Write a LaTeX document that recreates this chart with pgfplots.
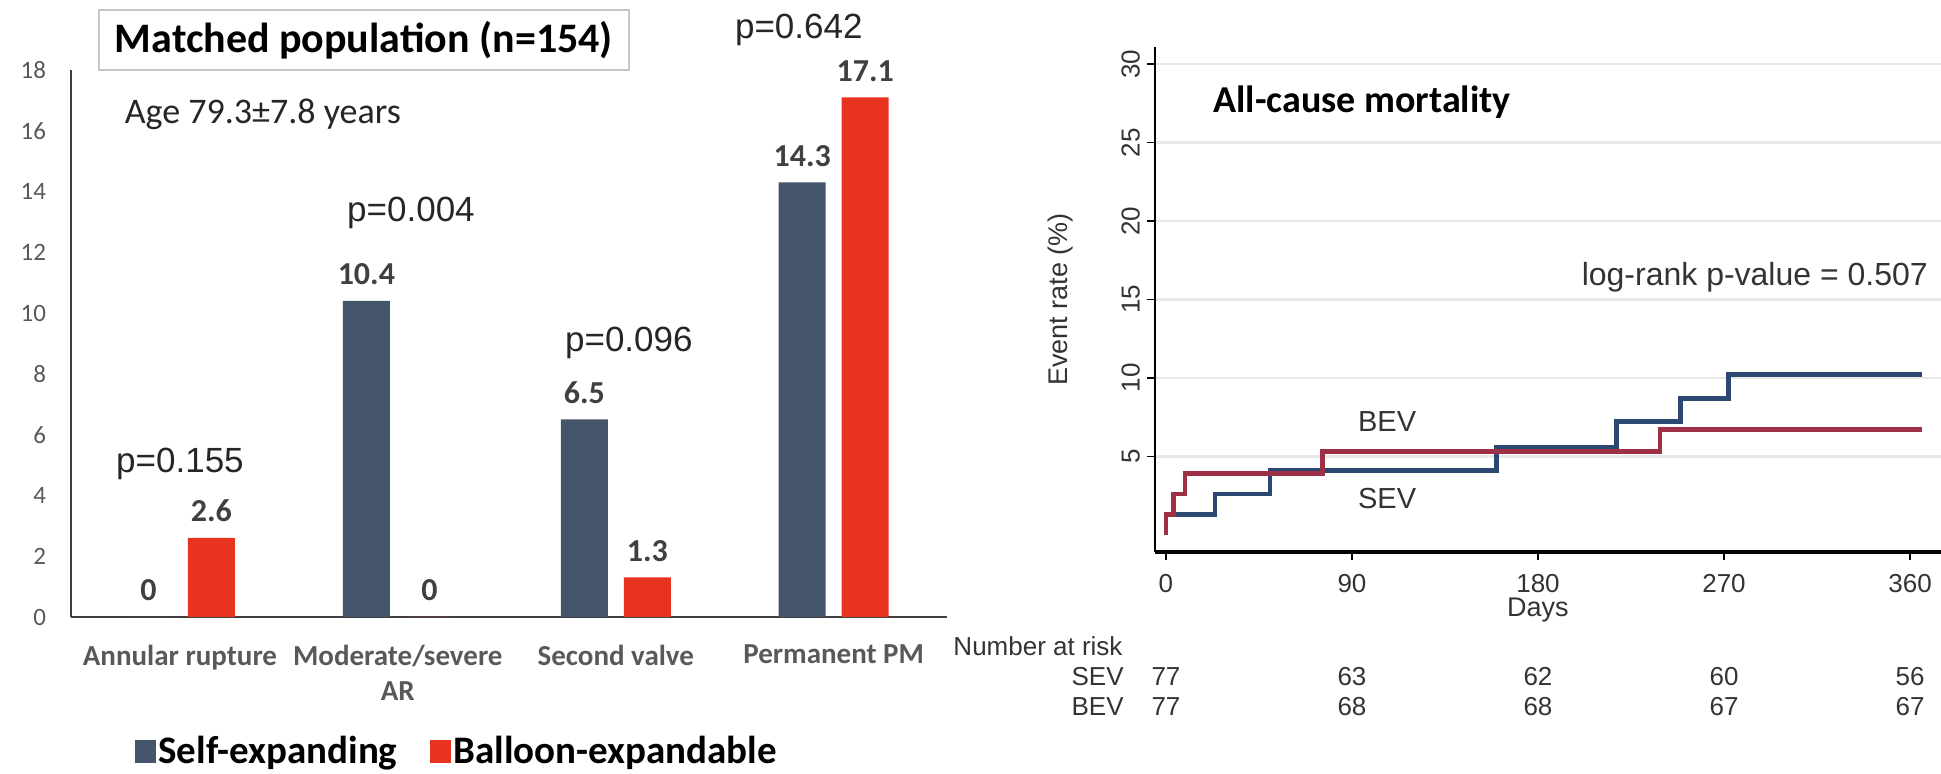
\documentclass[border=0pt]{standalone}
\usepackage{fontspec}
\usepackage{pgfplots}
\pgfplotsset{compat=1.18}
\setmainfont{Carlito}
\newfontfamily\stata{Liberation Sans}

\definecolor{selfexp}{HTML}{44546A}
\definecolor{balloon}{HTML}{E8331F}
\definecolor{ticktext}{HTML}{595959}
\definecolor{valtext}{HTML}{404040}
\definecolor{sevcol}{HTML}{2A4870}
\definecolor{bevcol}{HTML}{9E3046}
\definecolor{gridcol}{HTML}{E8E8E8}

\begin{document}
\begin{tikzpicture}
\useasboundingbox (0,0) rectangle (970.5pt,387pt);

% ---------------- complications, bar chart ----------------
\begin{axis}[
  at={(35.5pt,78.5pt)}, anchor=south west,
  scale only axis, width=438pt, height=273.5pt,
  xmin=-0.5, xmax=3.52, ymin=0, ymax=18,
  ybar=8pt, bar width=23.5pt,
  axis x line*=bottom, axis y line*=left,
  axis line style={color=valtext, line width=0.9pt},
  ytick={0,2,...,18},
  xtick={0,1,2,3},
  xticklabels={Annular rupture,{Moderate/severe\\AR},Second valve,Permanent PM},
  major tick length=0pt,
  /pgf/number format/assume math mode=true,
  yticklabel style={font=\fontsize{12.5}{14}\selectfont, text=ticktext, xshift=-9pt},
  xticklabel style={font=\bfseries\fontsize{14.5}{17.5}\selectfont, text=ticktext, align=center, anchor=north, yshift=-10.5pt},
  nodes near coords,
  every node near coord/.append style={font=\bfseries\fontsize{16}{19}\selectfont, text=valtext, yshift=4.5pt},
  legend columns=2,
  legend style={at={(axis description cs:0.073,-0.245)}, anchor=west, draw=none, fill=none,
    inner sep=0pt, font=\bfseries\fontsize{19.5}{23}\selectfont,
    nodes={inner sep=1pt},
    /tikz/every even column/.append style={column sep=15.5pt}},
  clip=false,
]
\addplot[fill=selfexp, draw=none,
  legend image code/.code={\path[fill=selfexp] (0pt,-5.75pt) rectangle (10.5pt,5.75pt);}]
  coordinates {(0,0) (1,10.4) (2,6.5) (3,14.3)};
\addplot[fill=balloon, draw=none,
  legend image code/.code={\path[fill=balloon] (0pt,-5.75pt) rectangle (10.5pt,5.75pt);}]
  coordinates {(0,2.6) (1,0) (2,1.3) (3,17.1)};
\legend{Self-expanding, Balloon-expandable}

\node[draw=black!22, line width=0.8pt, minimum width=265pt, minimum height=30pt,
  font=\bfseries\fontsize{21}{25}\selectfont] at (axis cs:0.844,18.99) {Matched population (n=154)};
\node[anchor=base west, inner sep=0pt, font=\fontsize{18}{21}\selectfont, text=black!85] at (axis cs:-0.255,16.25) {Age 79.3±7.8 years};

\node[anchor=base, font=\stata\fontsize{17.5}{20}\selectfont, text=black!85] at (axis cs:0.0,4.77) {p=0.155};
\node[anchor=base, font=\stata\fontsize{17.5}{20}\selectfont, text=black!85] at (axis cs:1.06,13.03) {p=0.004};
\node[anchor=base, font=\stata\fontsize{17.5}{20}\selectfont, text=black!85] at (axis cs:2.06,8.75) {p=0.096};
\node[anchor=base, font=\stata\fontsize{17.5}{20}\selectfont, text=black!85] at (axis cs:2.84,19.05) {p=0.642};
\end{axis}

% ---------------- all-cause mortality, Kaplan-Meier ----------------
\begin{axis}[
  at={(577.5pt,111pt)}, anchor=south west,
  scale only axis, width=393pt, height=252.5pt,
  xmin=-5.3, xmax=375, ymin=-1.1, ymax=31.1,
  axis x line*=bottom, axis y line*=left,
  x axis line style={line width=2pt, black},
  y axis line style={line width=0.8pt, black},
  xtick={0,90,180,270,360}, ytick={5,10,...,30},
  ymajorgrids, grid style={gridcol, line width=1.2pt},
  tick style={black, line width=0.8pt}, major tick length=4pt, tick align=outside,
  /pgf/number format/assume math mode=true,
  ticklabel style={font=\stata\fontsize{13}{15}\selectfont, text=black!80},
  xticklabel style={anchor=north, yshift=-3.5pt},
  yticklabel style={rotate=90, anchor=south},
  xlabel={Days}, ylabel={Event rate (\%)},
  label style={font=\stata\fontsize{13.5}{16}\selectfont, text=black!80},
  xlabel style={at={(axis description cs:0.487,-0.115)}, anchor=center},
  ylabel style={at={(axis description cs:-0.12,0.5)}, anchor=center},
  clip=false,
]
% self-expanding valves
\addplot[const plot, sevcol, line width=2.4pt] coordinates {
  (0,0) (0,1.3) (23.7,2.6) (50.3,4.1) (160,5.6) (218,7.2) (249,8.7) (272,10.2) (366,10.2)};
% balloon-expandable valves
\addplot[const plot, bevcol, line width=2.4pt] coordinates {
  (0,0) (0,1.3) (3.5,2.6) (9.2,3.9) (75.6,5.3) (239,6.7) (366,6.7)};

\node[anchor=base west, inner sep=0pt, font=\bfseries\fontsize{19}{23}\selectfont] at (axis cs:22.7,26.9) {All-cause mortality};
\node[anchor=base west, inner sep=0pt, font=\stata\fontsize{16}{19}\selectfont, text=black!80] at (axis cs:201,15.9) {log-rank p-value = 0.507};
\node[font=\stata\fontsize{14.5}{17}\selectfont, text=black!80] at (axis cs:107,7.2) {BEV};
\node[font=\stata\fontsize{14.5}{17}\selectfont, text=black!80] at (axis cs:107,2.3) {SEV};

% number at risk
\begin{scope}[every node/.style={font=\stata\fontsize{13}{15}\selectfont, text=black!80}]
\node[anchor=west, inner sep=0pt] at (axis cs:-103,-7.13) {Number at risk};
\node[anchor=east, inner sep=0pt] at (axis cs:-20.3,-9.04) {SEV};
\node[anchor=east, inner sep=0pt] at (axis cs:-20.3,-10.96) {BEV};
\node at (axis cs:0,-9.04) {77};
\node at (axis cs:90,-9.04) {63};
\node at (axis cs:180,-9.04) {62};
\node at (axis cs:270,-9.04) {60};
\node at (axis cs:360,-9.04) {56};
\node at (axis cs:0,-10.96) {77};
\node at (axis cs:90,-10.96) {68};
\node at (axis cs:180,-10.96) {68};
\node at (axis cs:270,-10.96) {67};
\node at (axis cs:360,-10.96) {67};
\end{scope}
\end{axis}
\end{tikzpicture}
\end{document}
